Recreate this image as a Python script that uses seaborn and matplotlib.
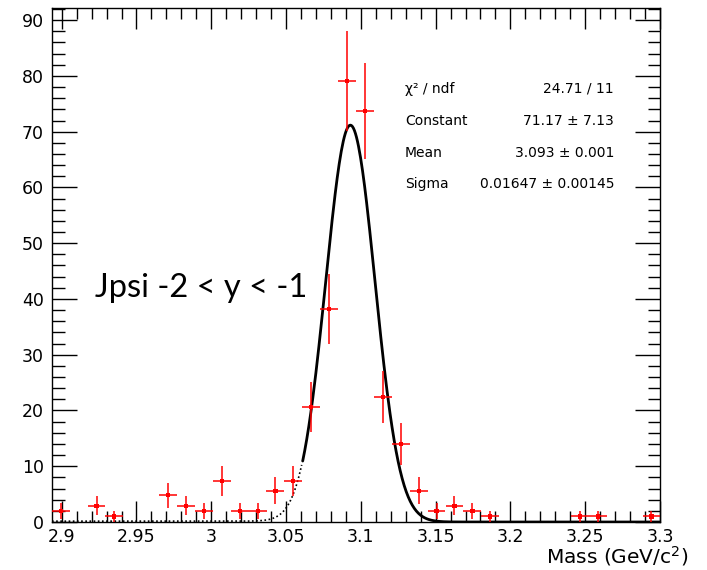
import numpy as np
import matplotlib
matplotlib.use("Agg")
import matplotlib.pyplot as plt
from matplotlib.ticker import MultipleLocator
import pandas as pd
import seaborn as sns

# bin centres (GeV/c^2), contents and errors of the non-empty bins
mass = [2.8993, 2.9233, 2.9352, 2.9711, 2.9831, 2.9951, 3.0070, 3.0190, 3.0310,
        3.0429, 3.0549, 3.0669, 3.0788, 3.0908, 3.1028, 3.1147, 3.1267, 3.1387,
        3.1506, 3.1626, 3.1746, 3.1865, 3.2464, 3.2584, 3.2943]
counts = [2.0, 2.9, 1.0, 4.8, 2.9, 2.0, 7.4, 2.0, 2.0, 5.6, 7.4, 20.6, 38.2,
          79.1, 73.7, 22.4, 14.0, 5.6, 2.0, 2.9, 2.0, 1.0, 1.0, 1.0, 1.0]
errors = [1.4, 1.7, 1.0, 2.2, 1.7, 1.4, 2.7, 1.4, 1.4, 2.4, 2.7, 4.5, 6.2,
          8.9, 8.6, 4.7, 3.7, 2.4, 1.4, 1.7, 1.4, 1.0, 1.0, 1.0, 1.0]
bin_width = 0.01197

# gaussian fit parameters
fit_const, fit_mean, fit_sigma = 71.17, 3.093, 0.01647
fit_lo = 3.061

stats_names = ["\u03c7\u00b2 / ndf", "Constant", "Mean", "Sigma"]
stats_vals = ["24.71 / 11", "71.17 \u00b1 7.13", "3.093 \u00b1 0.001", "0.01647 \u00b1 0.00145"]

sns.set_style("ticks")
plt.rcParams["font.family"] = ["DejaVu Sans"]
plt.rcParams["text.color"] = "black"
plt.rcParams["xtick.color"] = "black"
plt.rcParams["ytick.color"] = "black"

fig = plt.figure(figsize=(7.07, 5.70), dpi=100)
ax = fig.add_axes([0.0735, 0.0842, 0.86, 0.902])

df = pd.DataFrame({"mass": mass, "counts": counts, "err": errors})

# fit curve: dotted outside the fit range, solid inside
xs = np.linspace(2.8935, 3.3, 600)
ys = fit_const * np.exp(-0.5 * ((xs - fit_mean) / fit_sigma) ** 2)
curve = pd.DataFrame({"x": xs, "y": ys})
inside = curve[curve.x >= fit_lo]
outside = curve[curve.x <= fit_lo]
ax.plot(outside.x, outside.y + 0.15, color="black", lw=1.2, ls=(0, (1, 1.5)), zorder=2)
sns.lineplot(data=inside, x="x", y="y", color="black", lw=2, ax=ax, zorder=3)

ax.errorbar(df.mass, df.counts, yerr=df.err, xerr=bin_width / 2, fmt="none",
            ecolor="red", elinewidth=1.1, capsize=0, zorder=4)
sns.scatterplot(data=df, x="mass", y="counts", marker="s", s=9, color="red",
                edgecolor="none", ax=ax, zorder=5)

ax.set_xlim(2.8935, 3.3)
ax.set_ylim(0, 92.2)
ax.xaxis.set_minor_locator(MultipleLocator(0.01))
ax.yaxis.set_major_locator(MultipleLocator(10))
ax.yaxis.set_minor_locator(MultipleLocator(2))
ax.set_xticks([2.9, 2.95, 3.0, 3.05, 3.1, 3.15, 3.2, 3.25, 3.3])
ax.set_xticklabels(["2.9", "2.95", "3", "3.05", "3.1", "3.15", "3.2", "3.25", "3.3"])
ax.tick_params(which="both", direction="in", top=True, right=True, labelsize=12.5,
               width=1, colors="black")
ax.tick_params(axis="x", which="major", length=15, pad=4)
ax.tick_params(axis="x", which="minor", length=8)
ax.tick_params(axis="y", which="major", length=18, pad=6)
ax.tick_params(axis="y", which="minor", length=9)
for s in ax.spines.values():
    s.set_linewidth(1)
    s.set_color("black")
ax.set_xlabel("")
ax.set_ylabel("")

# stats box text
for i, (n, v) in enumerate(zip(stats_names, stats_vals)):
    yy = [0.844, 0.788, 0.732, 0.677][i]
    fig.text(0.573, yy, n, fontsize=10, va="center", ha="left")
    fig.text(0.8685, yy, v, fontsize=10, va="center", ha="right")

fig.text(0.134, 0.4947, "Jpsi -2 < y < -1", fontsize=23.5, va="center", ha="left",
         family=["Lato", "DejaVu Sans"])
fig.text(0.973, 0.012, "Mass (GeV/c$^2$)", fontsize=14.5, va="baseline", ha="right")

plt.savefig("out.png", dpi=100)
